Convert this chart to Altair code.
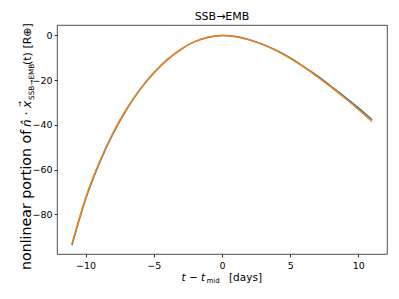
import altair as alt
import pandas as pd

# ---- data ----
days = [-11, -10, -9, -8, -7, -6, -5, -4, -3, -2, -1, 0, 1, 2, 3, 4, 5, 6, 7, 8, 9, 10, 11]
blue_vals = [-93.6, -73.1, -57.2, -44.0, -33.1, -24.1, -16.8, -10.8, -6.2, -2.8, -0.8, 0.0,
             -0.5, -1.9, -4.0, -6.7, -10.0, -13.9, -18.1, -22.7, -27.4, -32.4, -37.7]
orange_vals = [-93.0, -72.6, -56.7, -43.6, -32.8, -23.9, -16.6, -10.7, -6.1, -2.75, -0.75, 0.0,
               -0.55, -2.0, -4.1, -6.9, -10.3, -14.2, -18.5, -23.1, -27.95, -33.05, -38.45]
series_names = ["a", "b"]
series_colors = ["#1f77b4", "#ff7f0e"]
x_ticks = [-10, -5, 0, 5, 10]
y_ticks = [0, -20, -40, -60, -80]

FONT = "DejaVu Sans"
W, H = 330, 229

rows = []
for d, b, o in zip(days, blue_vals, orange_vals):
    rows.append({"t": d, "v": b, "s": series_names[0]})
    rows.append({"t": d, "v": o, "s": series_names[1]})
df = pd.DataFrame(rows)

x_enc = alt.X("t:Q", scale=alt.Scale(domain=[-12.1, 12.1], nice=False, zero=False),
              axis=alt.Axis(values=x_ticks, title=None, grid=False, domain=False,
                            tickSize=3, tickWidth=0.8, tickColor="#000",
                            labelPadding=3, labelFontSize=9.5, labelFont=FONT,
                            labelColor="#000", labelFlush=False))
y_enc = alt.Y("v:Q", scale=alt.Scale(domain=[-97.65, 4.65], nice=False, zero=False),
              axis=alt.Axis(values=y_ticks, title=None, grid=False, domain=False,
                            tickSize=3, tickWidth=0.8, tickColor="#000",
                            labelPadding=2, labelFontSize=9.5, labelFont=FONT,
                            labelColor="#000", labelFlush=False))

lines = alt.Chart(df).mark_line(strokeWidth=1.5, interpolate="monotone").encode(
    x=x_enc, y=y_enc,
    color=alt.Color("s:N", scale=alt.Scale(domain=series_names, range=series_colors), legend=None),
)

one = pd.DataFrame({"k": [0]})


def txt(text, x, y, size, align="left", angle=0, baseline="middle", style="normal"):
    return alt.Chart(one).mark_text(
        text=text, font=FONT, fontSize=size, align=align, angle=angle,
        baseline=baseline, fontStyle=style, color="#000",
    ).encode(x=alt.value(x), y=alt.value(y))


# title
title = txt("SSB→EMB", W / 2, -8, 11, align="center")

# x label pieces
xl1 = txt("t − t", 124.5, 256, 10.5, baseline="alphabetic", style="italic")
xl2 = txt("mid", 149.5, 258, 7, baseline="alphabetic")
xl3 = txt("[days]", 172, 256, 10.5, baseline="alphabetic")

# y label pieces (rotated)
yl1 = txt("nonlinear portion of", -26.5, 245, 14.2, angle=270, baseline="alphabetic")
yl2 = txt("n\u0302 · x", -26.5, 102, 12, angle=270, baseline="alphabetic", style="italic")
yl2b = txt("→", -37.5, 79, 7, align="center", angle=270)
yl3 = txt("SSB→EMB", -23, 75, 7.3, angle=270, baseline="alphabetic")
yl4 = txt("(t) [R⊕]", -26.5, 40, 11, angle=270, baseline="alphabetic")

chart = alt.layer(lines, title, xl1, xl2, xl3, yl1, yl2, yl2b, yl3, yl4).properties(
    width=W, height=H,
    autosize=alt.AutoSizeParams(type="none"),
    padding={"left": 49, "top": 17, "right": 4, "bottom": 37},
).configure_view(stroke="#222", strokeWidth=0.8)

chart.save("out.html", embed_options={"renderer": "svg", "actions": False})
